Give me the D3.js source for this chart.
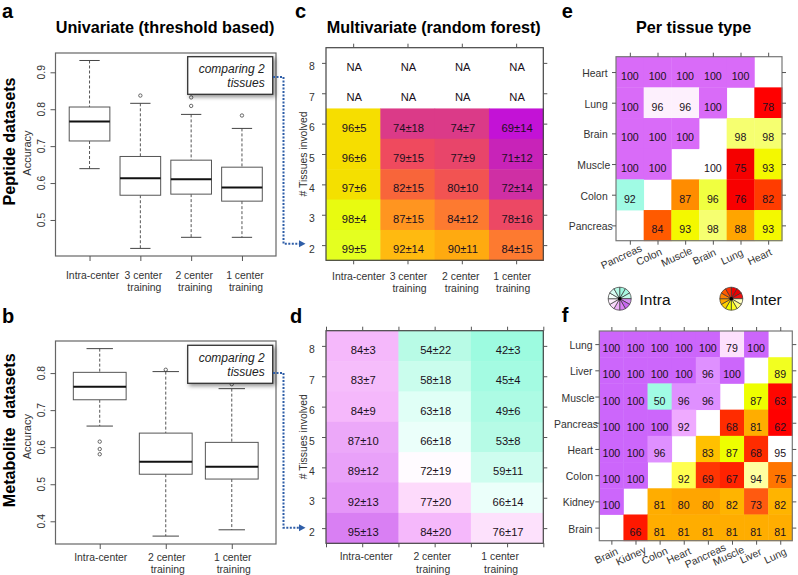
<!DOCTYPE html>
<html>

<head>
  <meta http-equiv="content-type" content="text/html; charset=utf-8">
  <title>Peptide and metabolite classification accuracy</title>
  <style>
    body { margin: 0; background: #fff; }
    svg { display: block; }
    text { font-family: "Liberation Sans", Arial, sans-serif; fill: #222; }
    .letter { font-size: 20px; font-weight: bold; fill: #000; }
    .title { font-size: 16.2px; font-weight: bold; fill: #000; }
    .side { font-size: 16.1px; font-weight: bold; fill: #000; white-space: pre; text-anchor: middle; }
    .lab { font-size: 10.4px; fill: #333; }
    .cell { font-size: 11.2px; text-anchor: middle; fill: #1a1020; }
    .num { font-size: 10.6px; text-anchor: middle; fill: #1a1020; }
    .frame { fill: none; stroke: #666; stroke-width: 1.2; }
    .tick line { stroke: #555; }
    .domain { display: none; }
    .note { font-size: 12px; font-style: italic; text-anchor: end; fill: #222; }
  </style>
</head>

<body>
  <svg id="canvas" width="798" height="575"></svg>
  <script src="https://d3js.org/d3.v7.min.js"></script>
  <script>

    // box stats are [low whisker, q1, median, q3, high whisker]
    const peptideCats = ["Intra-center", "3 center|training", "2 center|training", "1 center|training"];
    const peptideStats = [
      [0.639, 0.714, 0.767, 0.806, 0.932],
      [0.423, 0.567, 0.613, 0.672, 0.816],
      [0.453, 0.570, 0.610, 0.662, 0.786],
      [0.453, 0.551, 0.588, 0.643, 0.748]
    ];
    const peptideOutliers = [[], [0.837], [0.809, 0.832], [0.783]];

    const metaboliteCats = ["Intra-center", "2 center|training", "1 center|training"];
    const metaboliteStats = [
      [0.657, 0.728, 0.763, 0.802, 0.866],
      [0.360, 0.527, 0.561, 0.638, 0.804],
      [0.377, 0.514, 0.547, 0.613, 0.758]
    ];
    const metaboliteOutliers = [[0.581, 0.595, 0.615], [0.809], [0.770]];

    const tissueCounts = [8, 7, 6, 5, 4, 3, 2];
    const peptideMeans = [
      [null, null, null, null],
      [null, null, null, null],
      [96, 74, 74, 69],
      [96, 79, 77, 71],
      [97, 82, 80, 72],
      [98, 87, 84, 78],
      [99, 92, 90, 84]
    ];
    const peptideSds = [
      [null, null, null, null],
      [null, null, null, null],
      [5, 18, 7, 14],
      [6, 15, 9, 12],
      [6, 15, 10, 14],
      [4, 15, 12, 16],
      [5, 14, 11, 15]
    ];
    const metaboliteMeans = [
      [84, 54, 42],
      [83, 58, 45],
      [84, 63, 49],
      [87, 66, 53],
      [89, 72, 59],
      [92, 77, 66],
      [95, 84, 76]
    ];
    const metaboliteSds = [
      [3, 22, 3],
      [7, 18, 4],
      [9, 18, 6],
      [10, 18, 8],
      [12, 19, 11],
      [13, 20, 14],
      [13, 20, 17]
    ];

    const peptideRows = ["Heart", "Lung", "Brain", "Muscle", "Colon", "Pancreas"];
    const peptideCols = ["Pancreas", "Colon", "Muscle", "Brain", "Lung", "Heart"];
    const peptideTissue = [
      [100, 100, 100, 100, 100, null],
      [100, 96, 96, 100, null, 78],
      [100, 100, 100, null, 98, 98],
      [100, 100, null, 100, 75, 93],
      [92, null, 87, 96, 76, 82],
      [null, 84, 93, 98, 88, 93]
    ];

    const metaboliteRows = ["Lung", "Liver", "Muscle", "Pancreas", "Heart", "Colon", "Kidney", "Brain"];
    const metaboliteCols = ["Brain", "Kidney", "Colon", "Heart", "Pancreas", "Muscle", "Liver", "Lung"];
    const metaboliteTissue = [
      [100, 100, 100, 100, 100, 79, 100, null],
      [100, 100, 100, 100, 96, 100, null, 89],
      [100, 100, 50, 96, 96, null, 87, 63],
      [100, 100, 100, 92, null, 68, 81, 62],
      [100, 100, 96, null, 83, 87, 68, 95],
      [100, 100, null, 92, 69, 67, 94, 75],
      [100, null, 81, 80, 80, 82, 73, 82],
      [null, 66, 81, 81, 81, 81, 81, 81]
    ];

    const intraSwatch = ["#9ff7df", "#a8f8e2", "#c0fbe9", "#d890f5", "#c868f0", "#d980f5", "#eeb0f8", "#f8d8fb", "#fdf0fd", "#f5fffb", "#d8fdf3", "#b5fae6"];
    const interSwatch = ["#f00000", "#e80000", "#f01010", "#ffffc0", "#ffff80", "#ffff20", "#f4ff00", "#ffd000", "#ffa500", "#ff8000", "#ff5a00", "#ff3000"];

    const ramp = (stops) => d3.scaleLinear()
      .domain(stops.map(s => s[0]))
      .range(stops.map(s => s[1]))
      .interpolate(d3.interpolateRgb);

    const color_c = ramp([[69, "#c312d6"], [71, "#c823b8"], [72, "#cf2fa4"], [74, "#db3a88"], [77, "#e8456a"], [79, "#ef4a5e"], [82, "#f8653a"], [84, "#fd7a30"], [87, "#ff9520"], [90, "#ffaa10"], [92, "#ffba10"], [96, "#f6de00"], [97, "#f4e000"], [98, "#e8fb10"], [99, "#e4ff20"]]);
    const color_d = ramp([[42, "#9dfbe0"], [54, "#b8fbe6"], [63, "#e0fff6"], [66, "#ebfffa"], [72, "#fffbff"], [77, "#fddafb"], [84, "#f5b8fb"], [87, "#eca8f9"], [92, "#e596f8"], [95, "#d97ff3"]]);
    const color_e_intra = ramp([[92, "#a0fbe4"], [96, "#fdf0fd"], [100, "#d96bf8"]]);
    const color_e_inter = ramp([[75, "#f50000"], [78, "#ff0000"], [82, "#ff3c00"], [84, "#ff5a00"], [87, "#ff8c00"], [88, "#ffa500"], [93, "#f4f800"], [96, "#f0ff40"], [98, "#f6ff70"], [100, "#ffffff"]]);
    const color_f_intra = ramp([[50, "#a0fbe4"], [79, "#fde0fd"], [92, "#efaaff"], [96, "#df90ff"], [100, "#cc66fb"]]);
    const color_f_inter = ramp([[62, "#ff0000"], [66, "#ff1800"], [68, "#ff2c00"], [73, "#ff5a10"], [75, "#ff7500"], [80, "#ffa500"], [82, "#ffb400"], [83, "#ffc000"], [87, "#eeff00"], [89, "#f2ff20"], [92, "#ffff50"], [94, "#ffffa0"], [95, "#ffffff"]]);

    const svg = d3.select("svg#canvas");

    const put_text = (x, y, s, cls, angle) => {
      const t = svg.append("text").attr("class", cls).text(s);
      if (angle) t.attr("transform", "translate(" + x + "," + y + ")rotate(" + angle + ")");
      else t.attr("x", x).attr("y", y);
      return t;
    };

    const draw_box = (box, yDomain, cats, stats, outliers, labelShift, base1, base2) => {
      const x = d3.scaleLinear().domain([0.33, cats.length + 0.67]).range([box.x0, box.x1]);
      const y = d3.scaleLinear().domain(yDomain).range([box.y1, box.y0]);
      const g = svg.append("g");
      stats.forEach((s, i) => {
        const c = x(i + 1);
        const half = x(1.4) - x(1), cap = x(1.2) - x(1);
        g.append("line").attr("x1", c).attr("x2", c).attr("y1", y(s[4])).attr("y2", y(s[3]))
          .attr("stroke", "#555").attr("stroke-dasharray", "3,2");
        g.append("line").attr("x1", c).attr("x2", c).attr("y1", y(s[1])).attr("y2", y(s[0]))
          .attr("stroke", "#555").attr("stroke-dasharray", "3,2");
        [s[0], s[4]].forEach(v => {
          g.append("line").attr("x1", c - cap).attr("x2", c + cap).attr("y1", y(v)).attr("y2", y(v))
            .attr("stroke", "#444");
        });
        g.append("rect").attr("x", c - half).attr("width", half * 2)
          .attr("y", y(s[3])).attr("height", y(s[1]) - y(s[3]))
          .attr("fill", "#fff").attr("stroke", "#555");
        g.append("line").attr("x1", c - half).attr("x2", c + half).attr("y1", y(s[2])).attr("y2", y(s[2]))
          .attr("stroke", "#111").attr("stroke-width", 2);
        g.selectAll(null).data(outliers[i]).enter().append("circle")
          .attr("cx", c).attr("cy", v => y(v)).attr("r", 1.7)
          .attr("fill", "none").attr("stroke", "#444").attr("stroke-width", 0.8);
      });
      svg.append("rect").attr("class", "frame")
        .attr("x", box.x0).attr("y", box.y0).attr("width", box.x1 - box.x0).attr("height", box.y1 - box.y0);

      const ticks = d3.range(Math.ceil(yDomain[0] * 10), Math.floor(yDomain[1] * 10) + 1).map(v => v / 10);
      svg.append("g").attr("transform", "translate(" + box.x0 + ",0)")
        .call(d3.axisLeft(y).tickValues(ticks).tickSize(5).tickFormat(""));
      svg.append("g").attr("transform", "translate(0," + box.y1 + ")")
        .call(d3.axisBottom(x).tickValues(d3.range(1, cats.length + 1)).tickSize(5).tickFormat(""));
      ticks.forEach(v => {
        put_text(box.x0 - 10.5, y(v), v.toFixed(1), "lab", -90).attr("text-anchor", "middle");
      });
      cats.forEach((c, i) => {
        const parts = c.split("|");
        put_text(x(i + 1) + labelShift, base1, parts[0], "lab").attr("text-anchor", "middle");
        if (parts[1]) put_text(x(i + 1) + labelShift + 1, base2, parts[1], "lab").attr("text-anchor", "middle");
      });
    };

    const draw_heat = (box, cats, rows, means, sds, color, tickEveryHalf, labelDx, base1, base2) => {
      const x = d3.scaleBand().domain(d3.range(cats.length)).range([box.x0, box.x1]);
      const y = d3.scaleBand().domain(rows).range([box.y0, box.y1]);
      means.forEach((row, r) => {
        row.forEach((v, c) => {
          if (v === null) {
            put_text(x(c) + x.bandwidth() / 2 + 1, y(rows[r]) + y.bandwidth() / 2 + 8, "NA", "cell");
            return;
          }
          svg.append("rect").attr("x", x(c)).attr("y", y(rows[r]))
            .attr("width", x.bandwidth() + 0.5).attr("height", y.bandwidth() + 0.5)
            .attr("fill", color(v));
        });
      });
      means.forEach((row, r) => {
        row.forEach((v, c) => {
          if (v === null) return;
          put_text(x(c) + x.bandwidth() / 2 + 1, y(rows[r]) + y.bandwidth() / 2 + 8, v + "±" + sds[r][c], "cell");
        });
      });
      svg.append("rect").attr("class", "frame").style("stroke", "#444")
        .attr("x", box.x0).attr("y", box.y0).attr("width", box.x1 - box.x0).attr("height", box.y1 - box.y0);

      const xt = d3.scaleLinear().domain([0, cats.length]).range([box.x0, box.x1]);
      const xTicks = tickEveryHalf ? d3.range(0, cats.length + 0.5, 0.5) : d3.range(0.5, cats.length, 1);
      svg.append("g").attr("transform", "translate(0," + box.y1 + ")")
        .call(d3.axisBottom(xt).tickValues(xTicks).tickSize(4).tickFormat(""));
      svg.append("g").attr("transform", "translate(0," + box.y0 + ")")
        .call(d3.axisTop(xt).tickValues(xTicks).tickSize(4).tickFormat(""));
      const yt = d3.scalePoint().domain(rows).range([box.y0, box.y1]).padding(0.5);
      svg.append("g").attr("transform", "translate(" + box.x0 + ",0)")
        .call(d3.axisLeft(yt).tickSize(4).tickFormat(""));
      svg.append("g").attr("transform", "translate(" + box.x1 + ",0)")
        .call(d3.axisRight(yt).tickSize(4).tickFormat(""));

      rows.forEach(n => {
        put_text(box.x0 - 14, yt(n) + 7.5, n, "lab").attr("text-anchor", "middle");
      });
      cats.forEach((c, i) => {
        const parts = c.split("|");
        const cx = xt(i + 0.5) + labelDx[i];
        put_text(cx, base1, parts[0], "lab").attr("text-anchor", "middle");
        if (parts[1]) put_text(cx + 1, base2, parts[1], "lab").attr("text-anchor", "middle");
      });
    };

    const draw_tissue = (box, rowNames, colNames, values, intra, inter, rowDx, colDx, colY, rowLabelEnd) => {
      const n = rowNames.length;
      const x = d3.scaleBand().domain(colNames).range([box.x0, box.x1]);
      const y = d3.scaleBand().domain(rowNames).range([box.y0, box.y1]);
      values.forEach((row, r) => {
        row.forEach((v, c) => {
          if (v === null) return;
          svg.append("rect").attr("x", x(colNames[c])).attr("y", y(rowNames[r]))
            .attr("width", x.bandwidth() + 0.4).attr("height", y.bandwidth() + 0.4)
            .attr("fill", c < n - 1 - r ? intra(v) : inter(v));
        });
      });
      values.forEach((row, r) => {
        row.forEach((v, c) => {
          if (v === null) return;
          put_text(x(colNames[c]) + x.bandwidth() / 2, y(rowNames[r]) + y.bandwidth() / 2 + 8, v, "num");
        });
      });
      svg.append("rect").attr("class", "frame").style("stroke", "#777")
        .attr("x", box.x0).attr("y", box.y0).attr("width", box.x1 - box.x0).attr("height", box.y1 - box.y0);

      const xt = d3.scalePoint().domain(colNames).range([box.x0, box.x1]).padding(0.5);
      const yt = d3.scalePoint().domain(rowNames).range([box.y0, box.y1]).padding(0.5);
      svg.append("g").attr("transform", "translate(0," + box.y1 + ")").call(d3.axisBottom(xt).tickSize(4).tickFormat(""));
      svg.append("g").attr("transform", "translate(0," + box.y0 + ")").call(d3.axisTop(xt).tickSize(4).tickFormat(""));
      svg.append("g").attr("transform", "translate(" + box.x0 + ",0)").call(d3.axisLeft(yt).tickSize(4).tickFormat(""));
      svg.append("g").attr("transform", "translate(" + box.x1 + ",0)").call(d3.axisRight(yt).tickSize(4).tickFormat(""));

      rowNames.forEach((name, i) => {
        put_text(rowLabelEnd + rowDx[i], yt(name) + 5, name, "lab").attr("text-anchor", "end");
      });
      colNames.forEach((name, i) => {
        put_text(xt(name) + colDx[i], colY, name, "lab", -25).attr("text-anchor", "middle");
      });
    };

    const draw_callout = (x, y, h, base1, base2) => {
      svg.append("rect").attr("x", x).attr("y", y).attr("width", 85).attr("height", h)
        .attr("fill", "#fff").attr("stroke", "#333").attr("stroke-width", 1.3)
        .style("filter", "drop-shadow(2px 2px 2px rgba(0,0,0,0.45))");
      put_text(x + 77, base1, "comparing 2", "note");
      put_text(x + 77, base2, "tissues", "note");
    };

    const draw_link = (y0, y1) => {
      const line = d3.line();
      svg.append("path").attr("d", line([[273, y0], [283.5, y0], [283.5, y1], [300, y1]]))
        .attr("fill", "none").attr("stroke", "#2f5ea8").attr("stroke-width", 2).attr("stroke-dasharray", "2,1.5");
      svg.append("path").attr("d", line([[299, y1 - 3.5], [305.5, y1], [299, y1 + 3.5]]) + "Z").attr("fill", "#2f5ea8");
    };

    const draw_swatch = (cx, cy, colors) => {
      const arc = d3.arc().innerRadius(0).outerRadius(11.5);
      const pie = d3.pie().sort(null);
      const g = svg.append("g").attr("transform", "translate(" + cx + "," + cy + ")");
      g.selectAll("path").data(pie(colors.map(() => 1))).enter().append("path")
        .attr("d", arc).attr("fill", (_, i) => colors[i])
        .attr("stroke", "#333").attr("stroke-width", 0.7);
      g.append("circle").attr("r", 1.8).attr("fill", "#000");
    };

    draw_box({ x0: 55.5, x1: 276, y0: 53, y1: 256 }, [0.4024, 0.9523], peptideCats, peptideStats, peptideOutliers, 3, 279, 291);
    draw_box({ x0: 55.5, x1: 276, y0: 341, y1: 544 }, [0.3387, 0.8866], metaboliteCats, metaboliteStats, metaboliteOutliers, 1, 560.5, 572.5);

    draw_callout(187.7, 56.7, 37.6, 72.5, 87);
    draw_callout(187.7, 345.3, 38, 361.5, 376);
    draw_link(77, 243.7);
    draw_link(373, 527.7);

    draw_heat({ x0: 326, x1: 543.3, y0: 47.7, y1: 260.3 }, peptideCats, tissueCounts, peptideMeans, peptideSds, color_c, false, [5.5, 1, -1, -4], 279.5, 291.5);
    draw_heat({ x0: 326, x1: 543.3, y0: 330.7, y1: 543.3 }, metaboliteCats, tissueCounts, metaboliteMeans, metaboliteSds, color_d, true, [4, -2.5, -7], 560, 572.5);

    draw_tissue({ x0: 616, x1: 782, y0: 56.7, y1: 240.7 }, peptideRows, peptideCols, peptideTissue, color_e_intra, color_e_inter,
      [0, 0, 0, 2.5, 0, 5], [-7, -7, -7, -7, -7, -7], 260, 607.7);
    draw_tissue({ x0: 599.3, x1: 792.3, y0: 331, y1: 540.7 }, metaboliteRows, metaboliteCols, metaboliteTissue, color_f_intra, color_f_inter,
      [0, 0, 2, 5.5, 0.5, 0.5, 2, 0], [-3.5, -3, -3.5, -3.5, -1, -2, -4, -3.5], 559, 592.5);

    draw_swatch(619.7, 298.7, intraSwatch);
    draw_swatch(731.3, 298.7, interSwatch);
    put_text(639.5, 304.5, "Intra", "lab").style("font-size", "15.5px").style("fill", "#111");
    put_text(750.7, 304.5, "Inter", "lab").style("font-size", "15.5px").style("fill", "#111");

    put_text(2, 18, "a", "letter");
    put_text(2, 322.7, "b", "letter");
    put_text(295, 18, "c", "letter");
    put_text(290, 322.7, "d", "letter");
    put_text(561.7, 18, "e", "letter");
    put_text(561.7, 322, "f", "letter");

    put_text(55.7, 33.3, "Univariate (threshold based)", "title");
    put_text(326.7, 33.3, "Multivariate (random forest)", "title");
    put_text(636, 33.3, "Per tissue type", "title");

    put_text(14.5, 141.5, "Peptide datasets", "side", -90);
    put_text(14.5, 430.3, "Metabolite  datasets", "side", -90);

    put_text(31, 153, "Accuracy", "lab", -90).attr("text-anchor", "middle").style("font-size", "11px");
    put_text(31, 436.7, "Accuracy", "lab", -90).attr("text-anchor", "middle").style("font-size", "11px");
    put_text(306.7, 154, "# Tissues involved", "lab", -90).attr("text-anchor", "middle");
    put_text(306.7, 436.7, "# Tissues involved", "lab", -90).attr("text-anchor", "middle");

  </script>
</body>

</html>
